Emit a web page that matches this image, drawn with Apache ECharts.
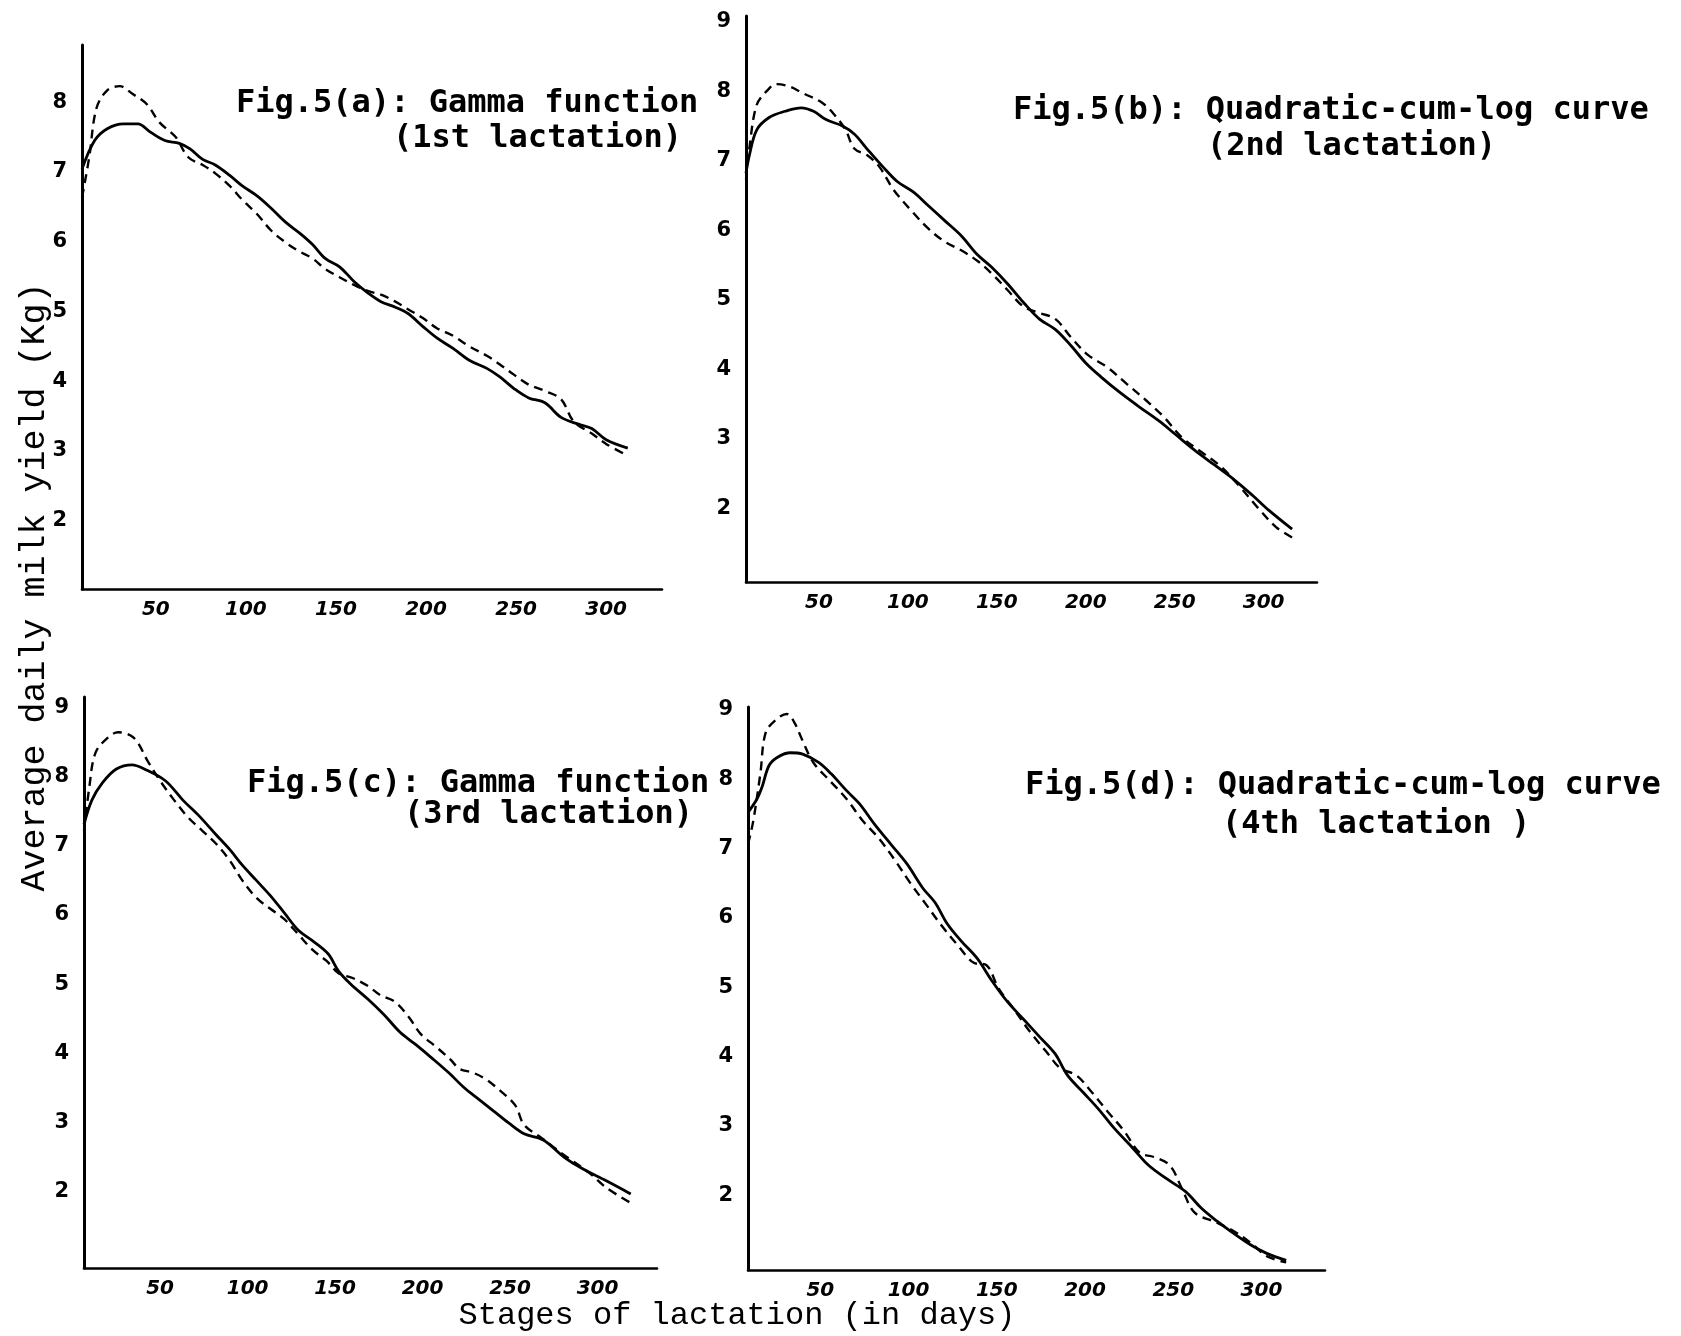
<!DOCTYPE html>
<html>
<head>
<meta charset="utf-8">
<script src="https://cdn.jsdelivr.net/npm/echarts@6/dist/echarts.min.js"></script>
<style>
html,body{margin:0;padding:0;background:#fff;}
#chart{width:1681px;height:1336px;}
</style>
</head>
<body>
<div id="chart"></div>
<script>
// ---- tick labels ----
var xTickLabels = [50, 100, 150, 200, 250, 300];
var yTickLabelsA = [2, 3, 4, 5, 6, 7, 8];
var yTickLabelsBCD = [2, 3, 4, 5, 6, 7, 8, 9];

// ---- Fig.5(a): Gamma function (1st lactation) ----
var aSolidDays = [9, 16, 23, 32, 40, 47, 55, 63, 69, 76, 83, 91, 98, 106, 114, 122, 130, 137, 144, 152, 160, 168, 175, 183, 190, 198, 206, 215, 224, 234, 241, 249, 257, 266, 275, 285, 292, 300, 312];
var aSolidYield = [7.04, 7.45, 7.62, 7.69, 7.69, 7.57, 7.45, 7.41, 7.33, 7.18, 7.10, 6.95, 6.80, 6.66, 6.48, 6.28, 6.12, 5.96, 5.76, 5.64, 5.43, 5.26, 5.14, 5.06, 4.97, 4.79, 4.62, 4.47, 4.30, 4.18, 4.06, 3.89, 3.76, 3.69, 3.48, 3.38, 3.32, 3.16, 3.04];
var aDashDays = [9, 13, 17, 23, 30, 37, 45, 52, 61, 68, 76, 83, 91, 98, 106, 114, 122, 129, 137, 144, 152, 160, 168, 175, 183, 190, 198, 206, 215, 224, 234, 241, 249, 257, 266, 275, 282, 292, 300, 312];
var aDashYield = [6.63, 7.21, 7.91, 8.17, 8.23, 8.12, 7.97, 7.71, 7.50, 7.21, 7.10, 6.98, 6.80, 6.60, 6.40, 6.16, 5.99, 5.87, 5.76, 5.61, 5.49, 5.38, 5.29, 5.24, 5.14, 5.03, 4.91, 4.76, 4.65, 4.50, 4.36, 4.24, 4.09, 3.95, 3.86, 3.74, 3.42, 3.25, 3.10, 2.93];

// ---- Fig.5(b): Quadratic-cum-log curve (2nd lactation) ----
var bSolidDays = [9, 11, 15, 22, 31, 40, 47, 54, 63, 70, 77, 86, 94, 103, 112, 121, 130, 139, 147, 156, 165, 174, 183, 192, 200, 209, 219, 230, 241, 251, 261, 272, 283, 294, 303, 316];
var bSolidYield = [6.82, 7.09, 7.44, 7.62, 7.71, 7.76, 7.71, 7.59, 7.50, 7.38, 7.17, 6.91, 6.70, 6.55, 6.34, 6.13, 5.92, 5.65, 5.47, 5.23, 4.96, 4.72, 4.57, 4.33, 4.09, 3.88, 3.67, 3.46, 3.26, 3.05, 2.84, 2.63, 2.42, 2.18, 1.97, 1.70];
var bDashDays = [9, 11, 15, 21, 26, 33, 41, 52, 59, 65, 70, 77, 84, 92, 103, 112, 121, 130, 139, 147, 156, 165, 174, 183, 192, 201, 212, 223, 234, 244, 254, 265, 276, 287, 297, 307, 316];
var bDashYield = [6.73, 7.20, 7.80, 8.01, 8.10, 8.07, 7.97, 7.83, 7.65, 7.44, 7.17, 7.08, 6.91, 6.58, 6.25, 6.01, 5.83, 5.71, 5.56, 5.38, 5.14, 4.90, 4.81, 4.72, 4.45, 4.21, 4.03, 3.79, 3.55, 3.31, 3.02, 2.81, 2.60, 2.30, 2.00, 1.73, 1.58];

// ---- Fig.5(c): Gamma function (3rd lactation) ----
var cSolidDays = [6.5, 11, 17, 25, 34, 41, 53, 63, 72, 82, 90, 97, 105, 113, 121, 129, 137, 146, 152, 159, 169, 178, 187, 196, 205, 215, 224, 232, 241, 249, 258, 269, 281, 291, 305, 319];
var cSolidYield = [7.31, 7.66, 7.91, 8.11, 8.17, 8.11, 7.94, 7.66, 7.44, 7.16, 6.94, 6.72, 6.50, 6.28, 6.03, 5.78, 5.63, 5.44, 5.19, 5.00, 4.78, 4.56, 4.31, 4.13, 3.94, 3.72, 3.50, 3.34, 3.16, 3.00, 2.84, 2.75, 2.50, 2.34, 2.16, 1.97];
var cDashDays = [6.5, 9.5, 13, 20, 26, 35, 43, 50, 58, 66, 74, 82, 90, 97, 105, 113, 121, 129, 137, 145, 152, 160, 169, 176, 184, 192, 199, 208, 216, 221, 229, 236, 244, 253, 258, 268, 281, 295, 305, 319];
var cDashYield = [7.22, 7.84, 8.34, 8.56, 8.64, 8.56, 8.22, 7.94, 7.66, 7.41, 7.22, 7.03, 6.78, 6.50, 6.25, 6.09, 5.94, 5.72, 5.50, 5.34, 5.16, 5.09, 4.97, 4.84, 4.75, 4.53, 4.28, 4.09, 3.91, 3.78, 3.72, 3.63, 3.47, 3.25, 2.97, 2.78, 2.53, 2.28, 2.06, 1.84];

// ---- Fig.5(d): Quadratic-cum-log curve (4th lactation) ----
var dSolidDays = [9, 14, 17, 21, 26, 33, 40, 49, 56, 65, 72, 81, 90, 99, 108, 115, 122, 130, 139, 147, 156, 165, 174, 183, 190, 199, 208, 216, 227, 236, 246, 257, 266, 275, 283, 294, 303, 314];
var dSolidYield = [7.52, 7.71, 7.89, 8.20, 8.32, 8.38, 8.36, 8.24, 8.08, 7.83, 7.65, 7.34, 7.06, 6.78, 6.43, 6.22, 5.91, 5.66, 5.41, 5.10, 4.79, 4.54, 4.29, 4.04, 3.73, 3.48, 3.23, 2.98, 2.68, 2.43, 2.24, 2.05, 1.81, 1.62, 1.47, 1.28, 1.16, 1.06];
var dDashDays = [9, 12, 16, 19, 25, 31, 35, 40, 46, 56, 65, 74, 83, 92, 101, 110, 118, 128, 137, 144, 151, 160, 169, 178, 186, 195, 204, 213, 222, 231, 239, 248, 255, 262, 273, 283, 294, 303, 314];
var dDashYield = [7.06, 7.40, 8.08, 8.67, 8.86, 8.94, 8.83, 8.55, 8.24, 7.96, 7.71, 7.40, 7.15, 6.84, 6.50, 6.19, 5.91, 5.60, 5.35, 5.32, 4.98, 4.67, 4.35, 4.07, 3.83, 3.73, 3.48, 3.20, 2.93, 2.61, 2.55, 2.43, 2.09, 1.75, 1.62, 1.50, 1.31, 1.12, 1.03];

// ---- texts ----
var panelTitles = [
  ['Fig.5(a): Gamma function', '(1st lactation)'],
  ['Fig.5(b): Quadratic-cum-log curve', '(2nd lactation)'],
  ['Fig.5(c): Gamma function', '(3rd lactation)'],
  ['Fig.5(d): Quadratic-cum-log curve', '(4th lactation )']
];
var yAxisTitle = 'Average daily milk yield (Kg)';
var xAxisTitle = 'Stages of lactation (in days)';

function pairs(xs, ys) {
  return xs.map(function (x, i) { return [x, ys[i]]; });
}

var chart = echarts.init(document.getElementById('chart'), null, {renderer: 'canvas'});

// layout (pixels)
var grids = [
  {left: 82, top: 45, width: 580, height: 544},
  {left: 746, top: 16, width: 571, height: 566},
  {left: 84, top: 697, width: 573, height: 571},
  {left: 748, top: 707, width: 577, height: 563}
];
var xRanges = [[9, 331], [9, 330], [6.5, 334], [9, 336]];
var yRanges = [[1.02, 8.82], [0.94, 9.08], [0.90, 9.15], [0.92, 9.04]];

var xAxes = [], yAxes = [];
for (var i = 0; i < 4; i++) {
  xAxes.push({
    type: 'value', gridIndex: i, min: xRanges[i][0], max: xRanges[i][1],
    axisLine: {show: true, onZero: false, lineStyle: {color: '#000', width: 2.6}},
    axisTick: {show: false}, splitLine: {show: false},
    axisLabel: {
      customValues: xTickLabels, margin: 11, color: '#000',
      fontFamily: 'DejaVu Sans', fontStyle: 'italic', fontWeight: 'bold', fontSize: 20
    }
  });
  yAxes.push({
    type: 'value', gridIndex: i, min: yRanges[i][0], max: yRanges[i][1],
    axisLine: {show: true, onZero: false, lineStyle: {color: '#000', width: 3}},
    axisTick: {show: false}, splitLine: {show: false},
    axisLabel: {
      customValues: i === 0 ? yTickLabelsA : yTickLabelsBCD, margin: 15, color: '#000',
      fontFamily: 'DejaVu Sans', fontWeight: 'bold', fontSize: 21
    }
  });
}

var solidSets = [pairs(aSolidDays, aSolidYield), pairs(bSolidDays, bSolidYield), pairs(cSolidDays, cSolidYield), pairs(dSolidDays, dSolidYield)];
var dashSets = [pairs(aDashDays, aDashYield), pairs(bDashDays, bDashYield), pairs(cDashDays, cDashYield), pairs(dDashDays, dDashYield)];

var series = [];
for (var k = 0; k < 4; k++) {
  series.push({
    type: 'line', xAxisIndex: k, yAxisIndex: k, data: solidSets[k],
    showSymbol: false, smooth: 0.35, animation: false,
    lineStyle: {color: '#000', width: 2.8}
  });
  series.push({
    type: 'line', xAxisIndex: k, yAxisIndex: k, data: dashSets[k],
    showSymbol: false, smooth: 0.35, animation: false,
    lineStyle: {color: '#000', width: 2.4, type: [9, 6]}
  });
}

var titleFont = 'bold 32px "DejaVu Sans Mono"';
var titlePos = [
  [[236, 104], [393, 139]],
  [[1013, 111], [1207, 147]],
  [[247, 784], [404, 815]],
  [[1025, 786], [1222, 825]]
];
var graphics = [];
for (var t = 0; t < 4; t++) {
  for (var l = 0; l < 2; l++) {
    graphics.push({
      type: 'text', x: titlePos[t][l][0], y: titlePos[t][l][1],
      style: {text: panelTitles[t][l], font: titleFont, fill: '#000', textAlign: 'left', textVerticalAlign: 'middle'}
    });
  }
}
graphics.push({
  type: 'text', x: 35, y: 587, rotation: Math.PI / 2,
  style: {text: yAxisTitle, font: '35px "Liberation Mono"', fill: '#000', textAlign: 'center', textVerticalAlign: 'middle'}
});
graphics.push({
  type: 'text', x: 737, y: 1316,
  style: {text: xAxisTitle, font: '32px "Liberation Mono"', fill: '#000', textAlign: 'center', textVerticalAlign: 'middle'}
});

chart.setOption({
  animation: false,
  backgroundColor: '#fff',
  grid: grids,
  xAxis: xAxes,
  yAxis: yAxes,
  series: series,
  graphic: graphics
});
</script>
</body>
</html>
